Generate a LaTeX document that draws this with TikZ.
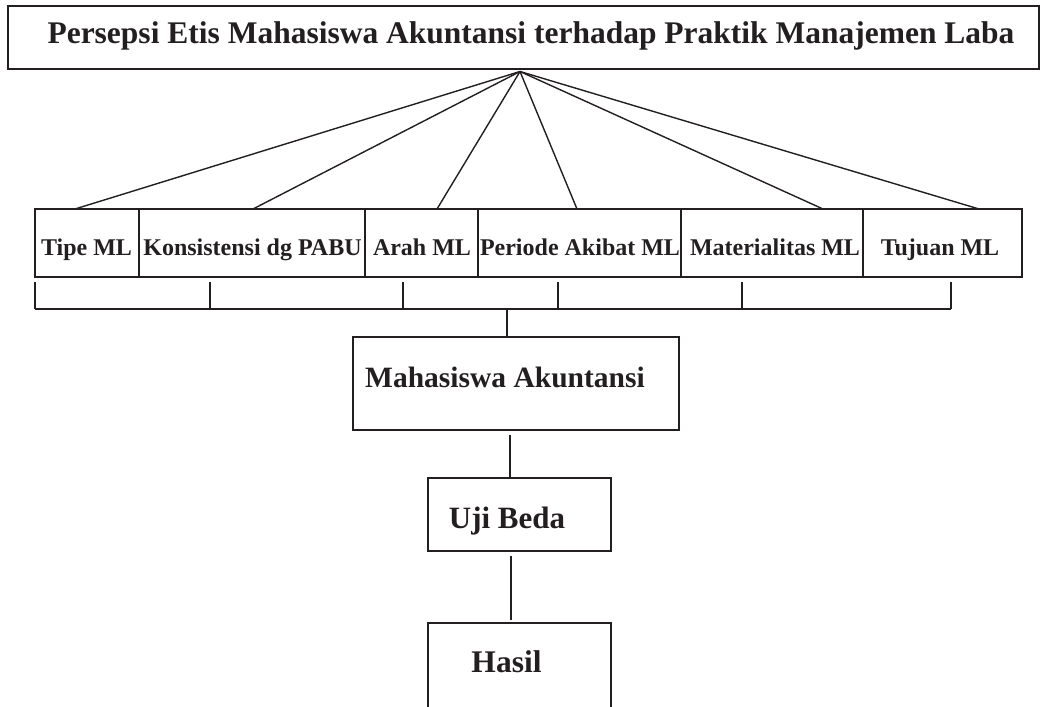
\documentclass[tikz,border=0pt]{standalone}
\usepackage{fontspec}
\setmainfont{Liberation Serif}
\usetikzlibrary{calc}
\definecolor{ink}{HTML}{231F20}
\tikzset{
  box/.style={draw=ink, line width=1.4pt, rectangle, inner sep=0pt},
  lbl/.style={anchor=base, inner sep=0pt, text=ink, font=\bfseries},
  conn/.style={draw=ink, line width=1.4pt},
}
\begin{document}
\begin{tikzpicture}[x=1pt,y=-1pt]
\useasboundingbox (0,0) rectangle (1042,707);
% title
\node[box, minimum width=1031pt, minimum height=63pt] (title) at (523.5,37.5) {};
\node[lbl, font=\fontsize{31.5}{34}\selectfont\bfseries] (ttext) at (531,43.5) {Persepsi Etis Mahasiswa Akuntansi terhadap Praktik Manajemen Laba};
% row boxes
\node[box, minimum width=104pt, minimum height=68pt] (b1) at (87,243) {};
\node[box, minimum width=226pt, minimum height=68pt] (b2) at (252,243) {};
\node[box, minimum width=113pt, minimum height=68pt] (b3) at (421.5,243) {};
\node[box, minimum width=203pt, minimum height=68pt] (b4) at (579.5,243) {};
\node[box, minimum width=182pt, minimum height=68pt] (b5) at (772,243) {};
\node[box, minimum width=159pt, minimum height=68pt] (b6) at (942.5,243) {};
\tikzset{rowf/.style={lbl, font=\fontsize{24}{26}\selectfont\bfseries}}
\node[rowf] (l1) at (86.5,255.5) {Tipe ML};
\node[rowf] (l2) at (252.5,255.5) {Konsistensi dg PABU};
\node[rowf] (l3) at (422,255.5) {Arah ML};
\node[rowf] (l4) at (580,255.5) {Periode Akibat ML};
\node[rowf] (l5) at (775,255.5) {Materialitas ML};
\node[rowf] (l6) at (940,255.5) {Tujuan ML};
% fan
\coordinate (apex) at (520,71.5);
\coordinate (f1) at (75,209);
\coordinate (f2) at (253,209);
\coordinate (f3) at (437,209);
\coordinate (f4) at (577,209);
\coordinate (f5) at (823,209);
\coordinate (f6) at (979,209);
\foreach \f in {f1,f2,f3,f4,f5,f6} \draw[conn] (apex) -- (\f);
% bracket
\foreach \n/\x in {t1/35,t2/210,t3/403,t4/558,t5/742,t6/951}{
  \coordinate (\n top) at (\x,282);
  \coordinate (\n bot) at (\x,309);
  \draw[conn] (\n top) -- (\n bot);
}
\draw[conn] (t1bot) -- (t6bot);
% lower boxes
\node[box, minimum width=326pt, minimum height=93pt] (mhs) at (516,383.5) {};
\node[lbl, font=\fontsize{29.5}{32}\selectfont\bfseries] (mtext) at (505,387) {Mahasiswa Akuntansi};
\node[box, minimum width=183pt, minimum height=73pt] (uji) at (519.5,514.5) {};
\node[lbl, font=\fontsize{31}{34}\selectfont\bfseries] (utext) at (507,528) {Uji Beda};
\node[box, minimum width=183pt, minimum height=110pt] (hasil) at (519.5,678) {};
\node[lbl, font=\fontsize{31.5}{34}\selectfont\bfseries] (htext) at (506.5,672) {Hasil};
\coordinate (barmid) at (507,309);
\draw[conn] (barmid) -- (barmid |- mhs.north);
\draw[conn] ($(mhs.south)+(-6,4)$) -- ($(uji.north)+(-9.5,0)$);
\draw[conn] ($(uji.south)+(-8.5,4)$) -- ($(hasil.north)+(-8.5,-2)$);
\end{tikzpicture}
\end{document}
